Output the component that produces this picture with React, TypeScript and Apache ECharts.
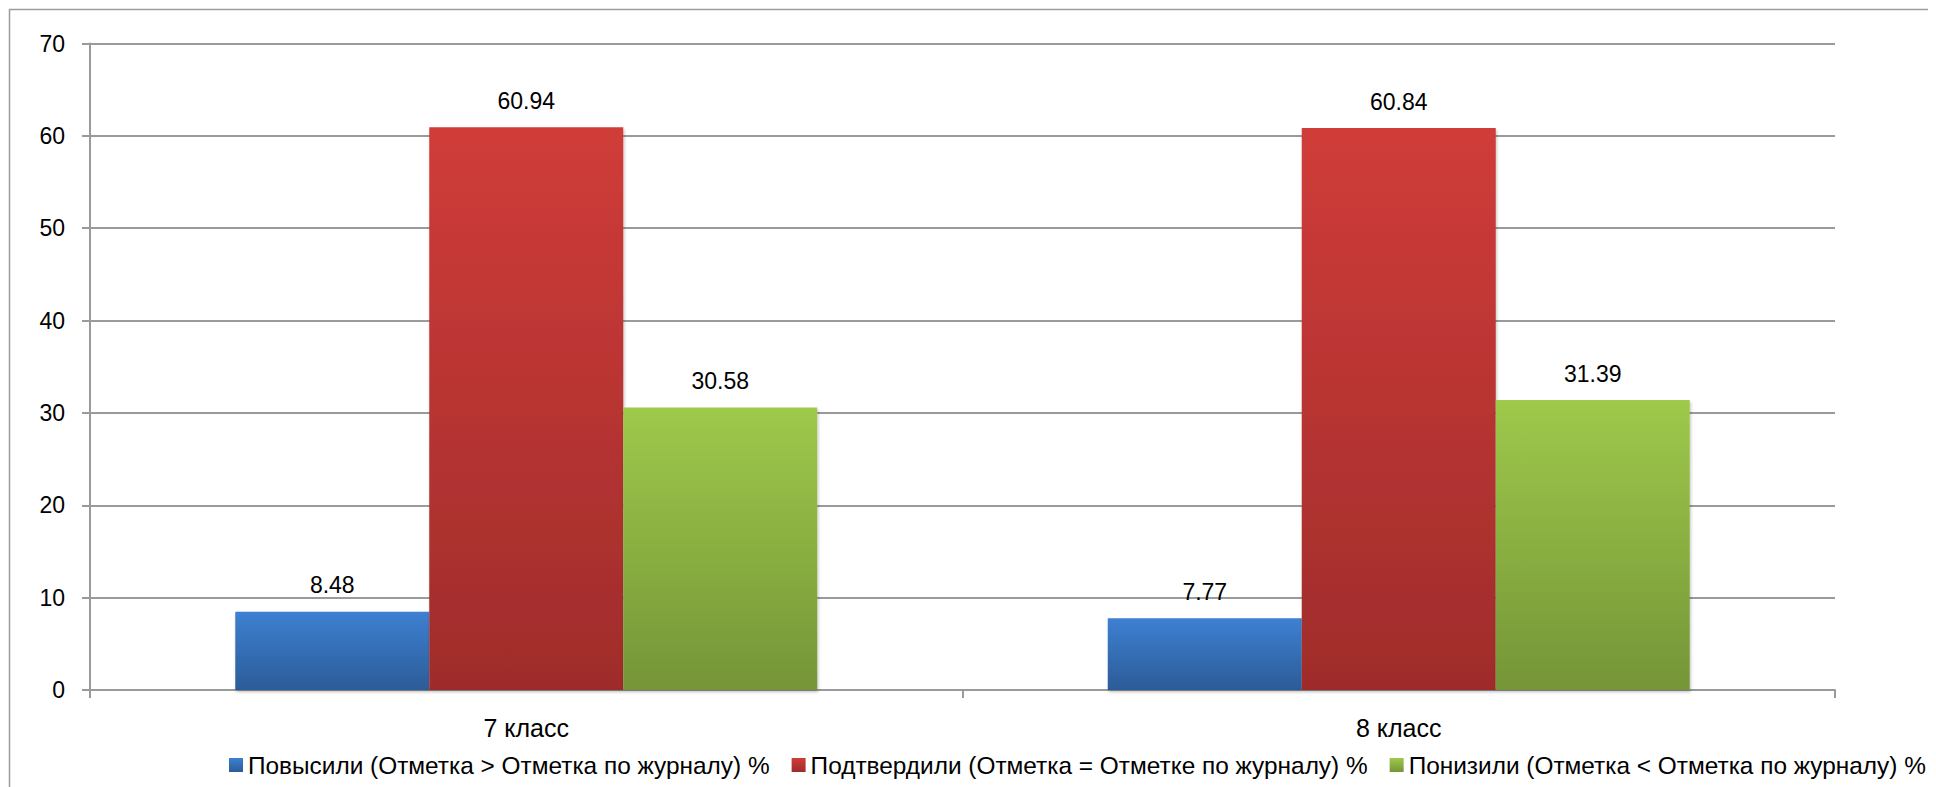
import React, { useEffect, useRef } from "react";
import * as echarts from "echarts";

const categories = ["7 класс", "8 класс"];
const seriesNames = [
  "Повысили (Отметка > Отметка по журналу) %",
  "Подтвердили (Отметка = Отметке по журналу) %",
  "Понизили (Отметка < Отметка по журналу) %",
];
const raisedValues = [8.48, 7.77];
const confirmedValues = [60.94, 60.84];
const loweredValues = [30.58, 31.39];
const yTicks = { min: 0, max: 70, interval: 10 };

const gradients = [
  ["#3d80d2", "#2c5c98"],
  ["#d03c39", "#9f2c2b"],
  ["#9ec94b", "#759537"],
];

const font = "'Liberation Sans', Arial, sans-serif";

export default function App() {
  const ref = useRef<HTMLDivElement>(null);
  useEffect(() => {
    if (!ref.current) return;
    const chart = echarts.init(ref.current, undefined, { renderer: "svg" });
    const values = [raisedValues, confirmedValues, loweredValues];
    const series = values.map((data, i) => ({
      name: seriesNames[i],
      type: "bar",
      data,
      barGap: "0%",
      barCategoryGap: "33.3%",
      itemStyle: {
        color: new echarts.graphic.LinearGradient(0, 0, 0, 1, [
          { offset: 0, color: gradients[i][0] },
          { offset: 1, color: gradients[i][1] },
        ]),
        shadowColor: "rgba(0,0,0,0.25)",
        shadowBlur: 3,
        shadowOffsetX: 1,
        shadowOffsetY: 2,
      },
      label: {
        show: true,
        position: "top",
        distance: 15,
        color: "#000",
        fontFamily: font,
        fontSize: 23,
        formatter: (p: any) => String(p.value),
      },
    }));
    chart.setOption({
      animation: false,
      backgroundColor: "#fff",
      graphic: [
        {
          type: "rect",
          shape: { x: 1.5, y: 1.5, width: 2000, height: 1000 },
          style: { fill: "none", stroke: "#9c9c9c", lineWidth: 1.5 },
          silent: true,
        },
      ],
      grid: { left: 82, right: 93, top: 35.5, bottom: 97 },
      legend: {
        left: 216,
        top: 740,
        width: 1780,
        icon: "rect",
        itemWidth: 14,
        itemHeight: 14,
        itemGap: 22,
        textStyle: { fontFamily: font, fontSize: 24.4, color: "#000" },
        data: seriesNames,
      },
      xAxis: {
        type: "category",
        data: categories,
        axisLine: { lineStyle: { color: "#9a9a9a", width: 2 } },
        axisTick: { show: true, length: 8, interval: 0, lineStyle: { color: "#9a9a9a", width: 2 } },
        axisLabel: { margin: 25, color: "#000", fontFamily: font, fontSize: 25 },
      },
      yAxis: {
        type: "value",
        min: yTicks.min,
        max: yTicks.max,
        interval: yTicks.interval,
        axisLine: { show: true, lineStyle: { color: "#9a9a9a", width: 2 } },
        axisTick: { show: true, length: 8, lineStyle: { color: "#9a9a9a", width: 2 } },
        splitLine: { show: true, lineStyle: { color: "#9a9a9a", width: 2 } },
        axisLabel: { margin: 25, color: "#000", fontFamily: font, fontSize: 23 },
      },
      series,
    });
    return () => chart.dispose();
  }, []);
  return <div ref={ref} style={{ width: 1920, height: 779 }} />;
}
